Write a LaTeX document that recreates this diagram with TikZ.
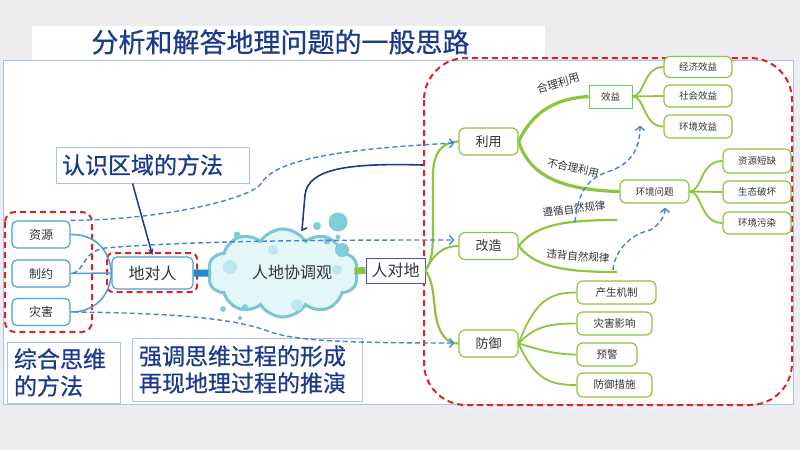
\documentclass[tikz,border=0pt]{standalone}
\usepackage{fontspec}
\newfontfamily\cjk{Noto Sans CJK SC}
\newfontfamily\cjkb[FakeBold=0.6]{Noto Sans CJK SC}
\usetikzlibrary{arrows.meta,shapes.symbols,calc}
\definecolor{bggray}{HTML}{EDEDEF}
\definecolor{navy}{HTML}{1C3A8C}
\definecolor{framebl}{HTML}{A9C3EA}
\definecolor{redd}{HTML}{E02222}
\definecolor{dashbl}{HTML}{4A80D8}
\definecolor{boxbl}{HTML}{4AA0D8}
\definecolor{txtg}{HTML}{333333}
\definecolor{lime}{HTML}{8CC63E}
\definecolor{xygreen}{HTML}{5FD35F}
\definecolor{cfill}{HTML}{E3F6FA}
\definecolor{cdraw}{HTML}{78C6D6}
\definecolor{bub}{HTML}{80CCD9}
\definecolor{bubin}{HTML}{BDE6EE}
\definecolor{cblue}{HTML}{1F8AD0}
\definecolor{rdblue}{HTML}{4A4AD0}
\begin{document}
\begin{tikzpicture}[x=1pt,y=-1pt,
  notebox/.style={draw=framebl,line width=0.8,fill=white,text=navy,
    font=\cjkb\fontsize{23}{27}\selectfont,align=left,inner ysep=2},
  lbox/.style={draw=boxbl,line width=1.2,rounded corners=5,fill=white,text=txtg,
    font=\cjk\fontsize{12}{14}\selectfont,minimum width=58,minimum height=27,inner sep=0},
  gbox/.style={draw=lime,line width=1.2,rounded corners=6,fill=white,text=txtg,
    font=\cjk\fontsize{9.5}{11}\selectfont,minimum height=23,inner sep=0},
  gbig/.style={gbox,font=\cjk\fontsize{13}{15}\selectfont,minimum width=59,minimum height=27},
  gline/.style={draw=lime,line width=1.8},
  gthick/.style={draw=lime,line width=3.2},
  rdash/.style={draw=redd,line width=2,dash pattern=on 6pt off 4pt},
  bdash/.style={draw=dashbl,line width=1.4,dash pattern=on 5pt off 3pt,
    -{Straight Barb[length=4pt,width=9pt]}},
  brlab/.style={text=txtg,font=\cjk\fontsize{10.5}{12}\selectfont,inner sep=0},
  bubble/.style={fill=bub},
  bubinner/.style={fill=bubin}
]
\useasboundingbox (0,0) rectangle (800,450);
\fill[bggray] (0,0) rectangle (800,450);
\fill[white] (32,26) rectangle (545,60);
\fill[white] (3,60) rectangle (793,404);
\draw[framebl,line width=1] (3,60) rectangle (793,404);
\node[text=navy,font=\cjkb\fontsize{27}{30}\selectfont] (title) at (280.5,42) {分析和解答地理问题的一般思路};

% red frame
\draw[rdash,rounded corners=42] (424,58) rectangle (792,405);

% note boxes
\node[notebox,text width=181,inner xsep=6,minimum height=36] (rs) at (152.5,165) {认识区域的方法};
\node[notebox,text width=99,inner xsep=7,minimum height=61] (zh) at (63.5,372.5) {综合思维\\的方法};
\node[notebox,text width=216,inner xsep=7,minimum height=63] (qd) at (247,369.5) {强调思维过程的形成\\再现地理过程的推演};

% left boxes
\node[lbox] (zy) at (41,234.5) {资源};
\node[lbox] (zyue) at (41,273.5) {制约};
\node[lbox] (zhai) at (41,312) {灾害};
\draw[rdash,rounded corners=10] (5,212) rectangle (92,332);
\node[lbox,minimum width=81,minimum height=32,font=\cjk\fontsize{16}{18}\selectfont] (dr) at (152.5,273) {地对人};
\draw[rdash,rounded corners=6] (107,253) rectangle (197,292);

\draw[boxbl,line width=1.5] (zy.east) .. controls (95,234) and (110,250) .. (dr.west);
\draw[boxbl,line width=1.5] (zyue.east) -- (dr.west);
\draw[boxbl,line width=1.5] (zhai.east) .. controls (95,312) and (110,296) .. (dr.west);
\draw[navy,line width=1.5,-{Stealth[length=7pt,width=5pt]}] ($(rs.south)+(-20,0)$) -- ($(dr.north)+(0,-1)$);

% cloud
\node[cloud,cloud puffs=10,cloud puff arc=115,aspect=1.75,minimum width=150,minimum height=88,
  draw=cdraw,fill=cfill,line width=3,inner sep=0] (cl) at (283,273) {};
\fill[bubinner] (230,267) circle (7);
\fill[bubinner] (273,250) circle (5);
\fill[bubinner] (337,270) circle (5);
\fill[bubinner] (297,305) circle (6);
\node[text=txtg,font=\cjk\fontsize{16}{18}\selectfont] (clt) at (292,272) {人地协调观};
\fill[bubble] (338,222) circle (9.5);
\fill[bubble] (317,226) circle (4);
\fill[bubble] (338,237) circle (2.5);
\fill[bubble] (327,241) circle (3.5);
\fill[bubble] (342,250) circle (7);
\fill[bubble] (237,235) circle (3.5);
\fill[bubble] (223,309) circle (3);
\fill[bubble] (245,307) circle (3);
\fill[bubble] (240,318) circle (2);

\draw[cblue,line width=7] (dr.east) -- (cl.west);
\node[draw=rdblue,line width=1,fill=white,text=txtg,font=\cjk\fontsize{16}{18}\selectfont,
  minimum width=59,minimum height=25,inner sep=0] (rd) at (395.5,270.5) {人对地};
\draw[lime,line width=7] ($(cl.east)+(-3,-2)$) -- (rd.west);

% navy curve
\coordinate (nv) at (423,165);
\coordinate (nvend) at (302,230);
\draw[navy,line width=1.6] (nv) .. controls (350,163) and (308,168) .. (305,195) -- (nvend) -- ++(5,-2);

% right nodes
\node[gbig] (ly) at (488.5,141.5) {利用};
\node[gbig] (gz) at (488.5,246) {改造};
\node[gbig] (fy) at (488.5,343.5) {防御};
\node[draw=xygreen,line width=1,fill=white,text=txtg,font=\cjk\fontsize{9.5}{11}\selectfont,
  minimum width=43,minimum height=23,inner sep=0] (xy) at (610.5,96.5) {效益};
\node[gbox,minimum width=68,minimum height=21] (jj) at (698,67) {经济效益};
\node[gbox,minimum width=68,minimum height=22] (sh) at (698,96) {社会效益};
\node[gbox,minimum width=68] (hx) at (698,126.5) {环境效益};
\node[gbox,minimum width=69] (hj) at (654.5,191.5) {环境问题};
\node[gbox,minimum width=68,minimum height=24] (dq) at (757,161) {资源短缺};
\node[gbox,minimum width=68,minimum height=22] (ph) at (757,192) {生态破坏};
\node[gbox,minimum width=68,minimum height=22] (wr) at (757,223) {环境污染};
\node[gbox,minimum width=79,font=\cjk\fontsize{10.5}{12}\selectfont] (cs) at (616.5,292.5) {产生机制};
\node[gbox,minimum width=75,font=\cjk\fontsize{10.5}{12}\selectfont] (yx) at (614.5,323.5) {灾害影响};
\node[gbox,minimum width=60,font=\cjk\fontsize{10.5}{12}\selectfont] (yj) at (607,354.5) {预警};
\node[gbox,minimum width=75,minimum height=24,font=\cjk\fontsize{10.5}{12}\selectfont] (cs2) at (614.5,385) {防御措施};

% trunk
\draw[gline,line width=2.2] (rd.east) .. controls (432,262) and (433,250) .. (433,225) -- (433,175) .. controls (433,150) and (445,141.5) .. (ly.west);
\draw[gline,line width=2.2] (rd.east) .. controls (432,280) and (433,290) .. (435,310) .. controls (438,335) and (447,343.5) .. (fy.west);
\draw[gline,line width=2] ($(rd.east)+(2,-4)$) .. controls (437,250) and (447,246) .. (gz.west);

% utilisation branches
\draw[gthick] (ly.east) .. controls (530,118) and (548,99) .. (xy.west);
\draw[gthick] (ly.east) .. controls (528,170) and (552,190) .. (hj.west);
\node[brlab,font=\cjk\fontsize{11}{12}\selectfont,rotate=16] (lb1) at (558,83) {合理利用};
\node[brlab,rotate=-12] (lb2) at (573,168) {不合理利用};

% xiaoyi children
\draw[gline] (xy.east) .. controls (645,96) and (643,67) .. (jj.west);
\draw[gline] (xy.east) -- (sh.west);
\draw[gline] (xy.east) .. controls (645,96) and (643,126.5) .. (hx.west);
% huanjing children
\draw[gline] (hj.east) .. controls (702,191.5) and (700,161) .. (dq.west);
\draw[gline] (hj.east) -- (ph.west);
\draw[gline] (hj.east) .. controls (702,191.5) and (700,223) .. (wr.west);

% gaizao branches
\coordinate (zxend) at (617,220);
\coordinate (wbend) at (617,272);
\draw[gline,line width=2.2] (gz.east) .. controls (535,226) and (560,220) .. (zxend);
\draw[gline,line width=2.2] (gz.east) .. controls (535,266) and (560,272) .. (wbend);
\node[brlab,rotate=7] (lb3) at (574,209) {遵循自然规律};
\node[brlab,rotate=-5] (lb4) at (578,256) {违背自然规律};

% fangyu children
\draw[gline] (fy.east) .. controls (535,300) and (550,292.5) .. (cs.west);
\draw[gline] (fy.east) .. controls (535,326) and (550,323.5) .. (yx.west);
\draw[gline] (fy.east) .. controls (540,350) and (555,354.5) .. (yj.west);
\draw[gline] (fy.east) .. controls (535,380) and (550,385) .. (cs2.west);

% blue dashed connectors
\draw[bdash] (zy.north east) .. controls (160,220) and (245,200) .. (260,185) .. controls (272,163) and (320,150) .. ($(ly.west)+(-4,1.5)$);
\draw[bdash] ($(zyue.east)+(2,0)$) .. controls (85,270) and (82,252) .. (105,248) .. controls (200,240) and (350,240) .. ($(gz.west)+(-4,-6)$);
\draw[bdash] ($(zhai.east)+(3,0)$) .. controls (170,313) and (230,318) .. (265,330) .. controls (290,340) and (330,343) .. ($(fy.west)+(-4,-0.5)$);
\draw[bdash] ($(zxend)+(-42,2)$) .. controls (578,195) and (585,180) .. (607,172) .. controls (630,165) and (640,150) .. ($(xy.south)+(29.5,17)$);
\draw[bdash] ($(wbend)+(-4,-2)$) .. controls (615,250) and (630,235) .. (650,230) .. controls (660,225) and (665,215) .. ($(hj.south)+(10.5,4)$);
\end{tikzpicture}
\end{document}
